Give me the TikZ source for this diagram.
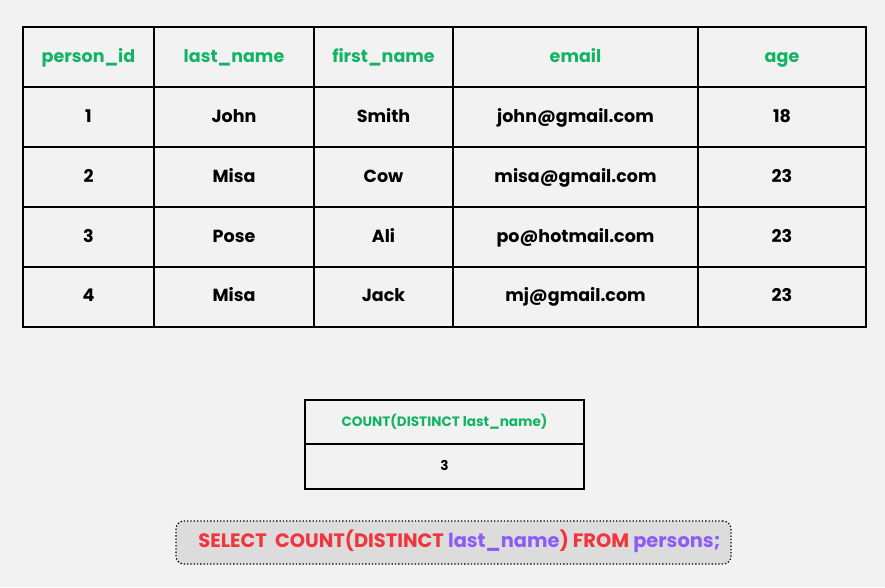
\documentclass[tikz,border=0pt]{standalone}
\usepackage{fontspec}
\setmainfont{Poppins}
\definecolor{bg}{HTML}{F2F2F2}
\definecolor{hdr}{HTML}{12B463}
\definecolor{sqlred}{HTML}{F0353D}
\definecolor{sqlpur}{HTML}{8B5CF6}
\definecolor{boxfill}{HTML}{DCDCDC}
\begin{document}
\begin{tikzpicture}[x=1pt,y=-1pt,
  cell/.style={draw=black,line width=2pt,inner sep=0pt,text height=1.0em,text depth=0pt,
    font=\bfseries\fontsize{17.5}{19}\selectfont},
  hcell/.style={cell,text=hdr},
  scell/.style={draw=black,line width=1.5pt,inner sep=0pt,minimum width=279pt,text height=0.8em,text depth=0pt,
    font=\bfseries\fontsize{13.6}{15}\selectfont},
]
\fill[bg] (0,0) rectangle (885,587);
\useasboundingbox (0,0) rectangle (885,587);
\def\rowh{60pt}
\foreach \r/\y/\a/\b/\c/\d/\e in {
  0/57/person\_id/last\_name/first\_name/email/age,
  1/117/1/John/Smith/john@gmail.com/18,
  2/177/2/Misa/Cow/misa@gmail.com/23,
  3/237/3/Pose/Ali/po@hotmail.com/23,
  4/296.5/4/Misa/Jack/mj@gmail.com/23}{
  \ifnum\r=0 \def\st{hcell}\else\def\st{cell}\fi
  \node[\st,minimum width=131pt,minimum height=\rowh] (c\r-1) at (88.5,\y) {\a};
  \node[\st,minimum width=160pt,minimum height=\rowh] (c\r-2) at (234,\y) {\b};
  \node[\st,minimum width=139pt,minimum height=\rowh] (c\r-3) at (383.5,\y) {\c};
  \node[\st,minimum width=245pt,minimum height=\rowh] (c\r-4) at (575.5,\y) {\d};
  \node[\st,minimum width=168pt,minimum height=\rowh] (c\r-5) at (782,\y) {\e};
}
% result table
\node[scell,text=hdr,minimum height=44pt] (rh) at (444.5,422) {COUNT(DISTINCT last\_name)};
\node[scell,minimum height=45pt] (rv) at (444.5,466.5) {3};
% SQL box
\node[draw=black,dotted,line width=1.3pt,fill=boxfill,rounded corners=8pt,
  minimum width=555pt,minimum height=43pt,inner sep=0pt,text height=0.95em,text depth=0pt,
  font=\bfseries\fontsize{19.4}{21}\selectfont] (sql) at (453.5,542.5)
  {\hspace*{12pt}\textcolor{sqlred}{SELECT\ \ COUNT(DISTINCT} \textcolor{sqlpur}{last\_name}\textcolor{sqlred}{) FROM} \textcolor{sqlpur}{persons;}};
\end{tikzpicture}
\end{document}
